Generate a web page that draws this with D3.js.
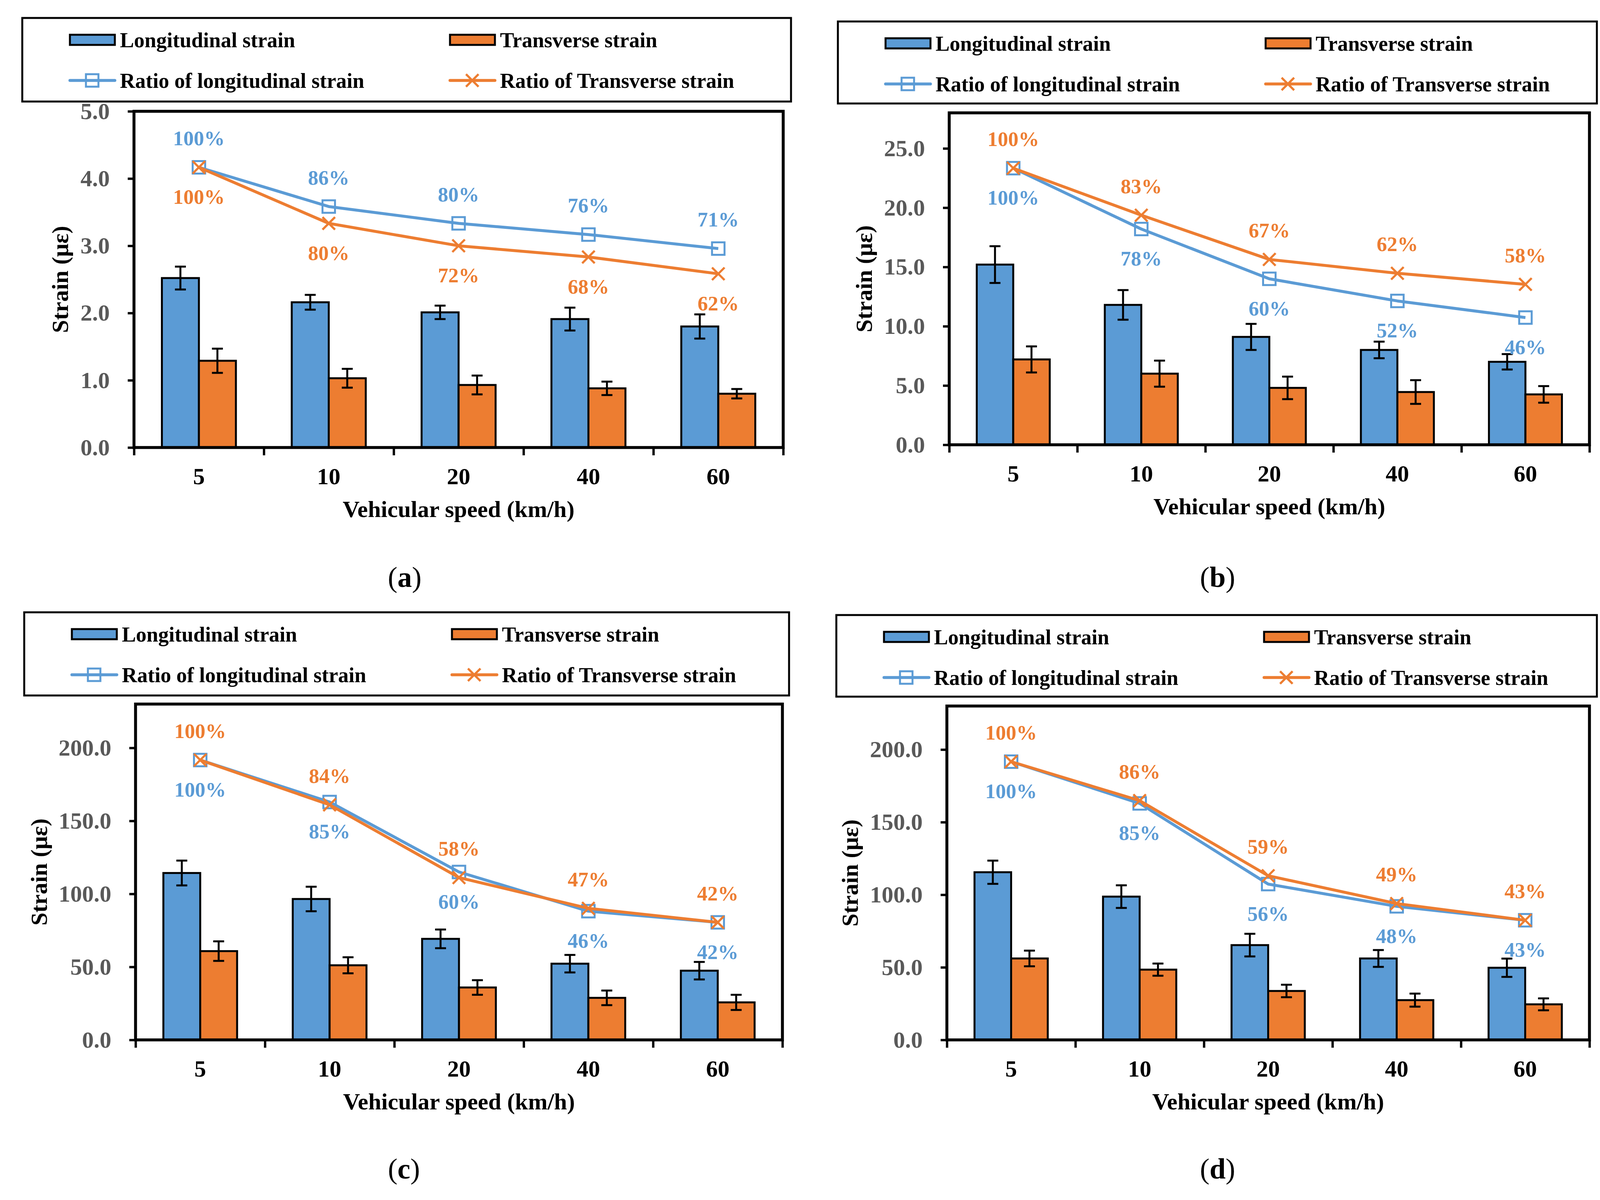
<!DOCTYPE html>
<html>
<head>
<meta charset="utf-8">
<script src="https://cdn.jsdelivr.net/npm/d3@7"></script>
<style>
  body { margin: 0; background: #fff; overflow: hidden; }
  svg { display: block; }
  text { font-family: "Liberation Serif", "Times New Roman", serif; }
</style>
</head>
<body>
<svg id="fig"></svg>
<script>
// vehicular speed categories (km/h)
const speeds = ["5", "10", "20", "40", "60"];

// (a)
const longA = [2.52, 2.16, 2.01, 1.91, 1.80];
const longErrA = [0.17, 0.11, 0.10, 0.17, 0.18];
const transA = [1.29, 1.03, 0.93, 0.88, 0.80];
const transErrA = [0.18, 0.14, 0.14, 0.10, 0.07];
const ratioLongA = [100, 86, 80, 76, 71];
const ratioTransA = [100, 80, 72, 68, 62];

// (b)
const longB = [15.2, 11.8, 9.1, 8.0, 7.0];
const longErrB = [1.55, 1.25, 1.1, 0.7, 0.65];
const transB = [7.2, 6.0, 4.8, 4.45, 4.25];
const transErrB = [1.1, 1.1, 0.95, 1.0, 0.7];
const ratioLongB = [100, 78, 60, 52, 46];
const ratioTransB = [100, 83, 67, 62, 58];

// (c)
const longC = [114.3, 96.5, 69.2, 52.2, 47.4];
const longErrC = [8.5, 8.4, 6.4, 6.0, 6.0];
const transC = [60.8, 51.1, 35.9, 28.8, 25.7];
const transErrC = [6.7, 5.5, 5.0, 5.0, 5.2];
const ratioLongC = [100, 85, 60, 46, 42];
const ratioTransC = [100, 84, 58, 47, 42];

// (d)
const longD = [115.5, 98.7, 65.3, 56.1, 49.7];
const longErrD = [8.0, 7.8, 7.8, 5.8, 6.3];
const transD = [56.1, 48.4, 33.7, 27.4, 24.5];
const transErrD = [5.4, 4.2, 4.3, 4.5, 4.1];
const ratioLongD = [100, 85, 56, 48, 43];
const ratioTransD = [100, 86, 59, 49, 43];

const BLUE = "#5B9BD5";
const ORANGE = "#ED7D31";

const panels = [
  { id: "a", long: longA, longErr: longErrA, trans: transA, transErr: transErrA,
    rLong: ratioLongA, rTrans: ratioTransA, yMax: 5, yStep: 1, yTop: 5, above: "long",
    plot: [343, 2005, 285, 1146], legend: [57, 2025, 46, 260], ytitleX: 153, cap: [1036, 1503] },
  { id: "b", long: longB, longErr: longErrB, trans: transB, transErr: transErrB,
    rLong: ratioLongB, rTrans: ratioTransB, yMax: 28, yStep: 5, yTop: 25, above: "trans",
    plot: [2430, 4069, 289, 1139], legend: [2145, 4088, 55, 265], ytitleX: 2211, cap: [3117, 1503] },
  { id: "c", long: longC, longErr: longErrC, trans: transC, transErr: transErrC,
    rLong: ratioLongC, rTrans: ratioTransC, yMax: 230, yStep: 50, yTop: 200, above: "trans",
    plot: [347, 2003, 1803, 2663], legend: [62, 2020, 1568, 1781], ytitleX: 99, cap: [1034, 3018] },
  { id: "d", long: longD, longErr: longErrD, trans: transD, transErr: transErrD,
    rLong: ratioLongD, rTrans: ratioTransD, yMax: 230, yStep: 50, yTop: 200, above: "trans",
    plot: [2424, 4069, 1808, 2663], legend: [2141, 4088, 1575, 1784], ytitleX: 2175, cap: [3117, 3018] }
];

const W = 4131, H = 3073;
const svg = d3.select("#fig").attr("width", W).attr("height", H);
svg.append("rect").attr("width", W).attr("height", H).attr("fill", "#fff");

panels.forEach(drawPanel);

function drawPanel(p) {
  const [x0, x1, y0, y1] = p.plot;
  const g = svg.append("g").attr("class", "panel-" + p.id);

  const x = d3.scaleBand().domain(speeds).range([x0, x1]);
  const xEdge = d3.scaleLinear().domain([0, speeds.length]).range([x0, x1]);
  const y = d3.scaleLinear().domain([0, p.yMax]).range([y1, y0]);
  const yRatio = d3.scaleLinear().domain([0, 120]).range([y1, y0]); // hidden secondary axis
  const bw = x.bandwidth() * 0.285;
  const cx = s => x(s) + x.bandwidth() / 2;

  // bars with error bars
  const barSeries = [
    { vals: p.long, err: p.longErr, color: BLUE, off: -bw },
    { vals: p.trans, err: p.transErr, color: ORANGE, off: 0 }
  ];
  barSeries.forEach(s => {
    g.append("g").selectAll("rect")
      .data(speeds)
      .join("rect")
      .attr("x", d => cx(d) + s.off)
      .attr("y", (d, i) => y(s.vals[i]))
      .attr("width", bw)
      .attr("height", (d, i) => y(0) - y(s.vals[i]))
      .attr("fill", s.color)
      .attr("stroke", "#000")
      .attr("stroke-width", 5);

    const eg = g.append("g").attr("stroke", "#000").attr("stroke-width", 5);
    speeds.forEach((d, i) => {
      const ex = cx(d) + s.off + bw / 2;
      const hi = y(s.vals[i] + s.err[i]), lo = y(s.vals[i] - s.err[i]);
      eg.append("line").attr("x1", ex).attr("x2", ex).attr("y1", hi).attr("y2", lo);
      eg.append("line").attr("x1", ex - 14).attr("x2", ex + 14).attr("y1", hi).attr("y2", hi);
      eg.append("line").attr("x1", ex - 14).attr("x2", ex + 14).attr("y1", lo).attr("y2", lo);
    });
  });

  // plot frame
  g.append("rect")
    .attr("x", x0).attr("y", y0)
    .attr("width", x1 - x0).attr("height", y1 - y0)
    .attr("fill", "none").attr("stroke", "#000").attr("stroke-width", 7.5);

  // y axis
  const yAxis = g.append("g")
    .attr("transform", `translate(${x0},0)`)
    .call(d3.axisLeft(y)
      .tickValues(d3.range(0, p.yTop + p.yStep / 2, p.yStep))
      .tickFormat(d3.format(".1f"))
      .tickSize(16)
      .tickPadding(46));
  yAxis.select(".domain").remove();
  yAxis.selectAll("line").attr("stroke", "#000").attr("stroke-width", 6);
  yAxis.selectAll("text")
    .attr("font-size", 60).attr("font-weight", "bold").attr("fill", "#595959")
    .style("font-family", '"Liberation Serif", "Times New Roman", serif');

  // x axis: edge ticks + category labels
  const xTicks = g.append("g")
    .attr("transform", `translate(0,${y1})`)
    .call(d3.axisBottom(xEdge).ticks(speeds.length).tickFormat("").tickSize(20));
  xTicks.select(".domain").remove();
  xTicks.selectAll("line").attr("stroke", "#000").attr("stroke-width", 6);

  const xLabels = g.append("g")
    .attr("transform", `translate(0,${y1})`)
    .call(d3.axisBottom(x).tickSize(0).tickPadding(51));
  xLabels.select(".domain").remove();
  xLabels.selectAll("text")
    .attr("font-size", 60).attr("font-weight", "bold").attr("fill", "#000")
    .style("font-family", '"Liberation Serif", "Times New Roman", serif');

  // axis titles
  g.append("text")
    .attr("x", (x0 + x1) / 2).attr("y", y1 + 178)
    .attr("text-anchor", "middle")
    .attr("font-size", 60).attr("font-weight", "bold")
    .text("Vehicular speed (km/h)");

  g.append("text")
    .attr("transform", `translate(${p.ytitleX},${(y0 + y1) / 2}) rotate(-90)`)
    .attr("text-anchor", "middle").attr("dy", "0.35em")
    .attr("font-size", 60).attr("font-weight", "bold")
    .text("Strain (με)");

  // ratio lines
  const line = d3.line().x((d, i) => cx(speeds[i])).y(d => yRatio(d));
  const lineSeries = [
    { key: "long", vals: p.rLong, color: BLUE, marker: "square" },
    { key: "trans", vals: p.rTrans, color: ORANGE, marker: "cross" }
  ];
  lineSeries.forEach(s => {
    g.append("path")
      .datum(s.vals)
      .attr("d", line)
      .attr("fill", "none")
      .attr("stroke", s.color)
      .attr("stroke-width", 7.5)
      .attr("stroke-linejoin", "round");
    s.vals.forEach((v, i) => drawMarker(g, s.marker, cx(speeds[i]), yRatio(v), s.color));
  });

  // ratio labels
  lineSeries.forEach(s => {
    const dir = s.key === p.above ? -1 : 1;
    g.append("g").selectAll("text")
      .data(s.vals)
      .join("text")
      .attr("x", (d, i) => cx(speeds[i]))
      .attr("y", d => yRatio(d) + dir * 75)
      .attr("dy", "0.35em")
      .attr("text-anchor", "middle")
      .attr("font-size", 53).attr("font-weight", "bold")
      .attr("fill", s.color)
      .text(d => d + "%");
  });

  drawLegend(g, p.legend);

  // caption
  const cap = g.append("text")
    .attr("x", p.cap[0]).attr("y", p.cap[1])
    .attr("text-anchor", "middle")
    .attr("font-size", 74);
  cap.append("tspan").text("(");
  cap.append("tspan").attr("font-weight", "bold").text(p.id);
  cap.append("tspan").text(")");
}

function drawMarker(g, type, mx, my, color) {
  const r = 16;
  if (type === "square") {
    g.append("rect")
      .attr("x", mx - r).attr("y", my - r)
      .attr("width", 2 * r).attr("height", 2 * r)
      .attr("fill", "none").attr("stroke", color).attr("stroke-width", 5);
  } else {
    const c = g.append("g").attr("stroke", color).attr("stroke-width", 5.5);
    c.append("line").attr("x1", mx - r).attr("y1", my - r).attr("x2", mx + r).attr("y2", my + r);
    c.append("line").attr("x1", mx - r).attr("y1", my + r).attr("x2", mx + r).attr("y2", my - r);
  }
}

function drawLegend(g, box) {
  const [lx0, lx1, ly0, ly1] = box;
  const lg = g.append("g");
  lg.append("rect")
    .attr("x", lx0).attr("y", ly0)
    .attr("width", lx1 - lx0).attr("height", ly1 - ly0)
    .attr("fill", "#fff").attr("stroke", "#000").attr("stroke-width", 5);

  const items = [
    { label: "Longitudinal strain", kind: "bar", color: BLUE, col: 0, row: 0 },
    { label: "Transverse strain", kind: "bar", color: ORANGE, col: 1, row: 0 },
    { label: "Ratio of longitudinal strain", kind: "square", color: BLUE, col: 0, row: 1 },
    { label: "Ratio of Transverse strain", kind: "cross", color: ORANGE, col: 1, row: 1 }
  ];
  const colX = [122, 1095];
  const rowY = [56, 160];
  items.forEach(it => {
    const sx = lx0 + colX[it.col];
    const sy = ly0 + rowY[it.row];
    if (it.kind === "bar") {
      lg.append("rect")
        .attr("x", sx).attr("y", sy - 13)
        .attr("width", 115).attr("height", 26)
        .attr("fill", it.color).attr("stroke", "#000").attr("stroke-width", 5);
    } else {
      lg.append("line")
        .attr("x1", sx).attr("x2", sx + 115).attr("y1", sy).attr("y2", sy)
        .attr("stroke", it.color).attr("stroke-width", 7.5).attr("stroke-linecap", "round");
      drawMarker(lg, it.kind, sx + 57, sy, it.color);
    }
    lg.append("text")
      .attr("x", sx + 128).attr("y", sy)
      .attr("dy", "0.35em")
      .attr("font-size", 54).attr("font-weight", "bold")
      .text(it.label);
  });
}
</script>
</body>
</html>
